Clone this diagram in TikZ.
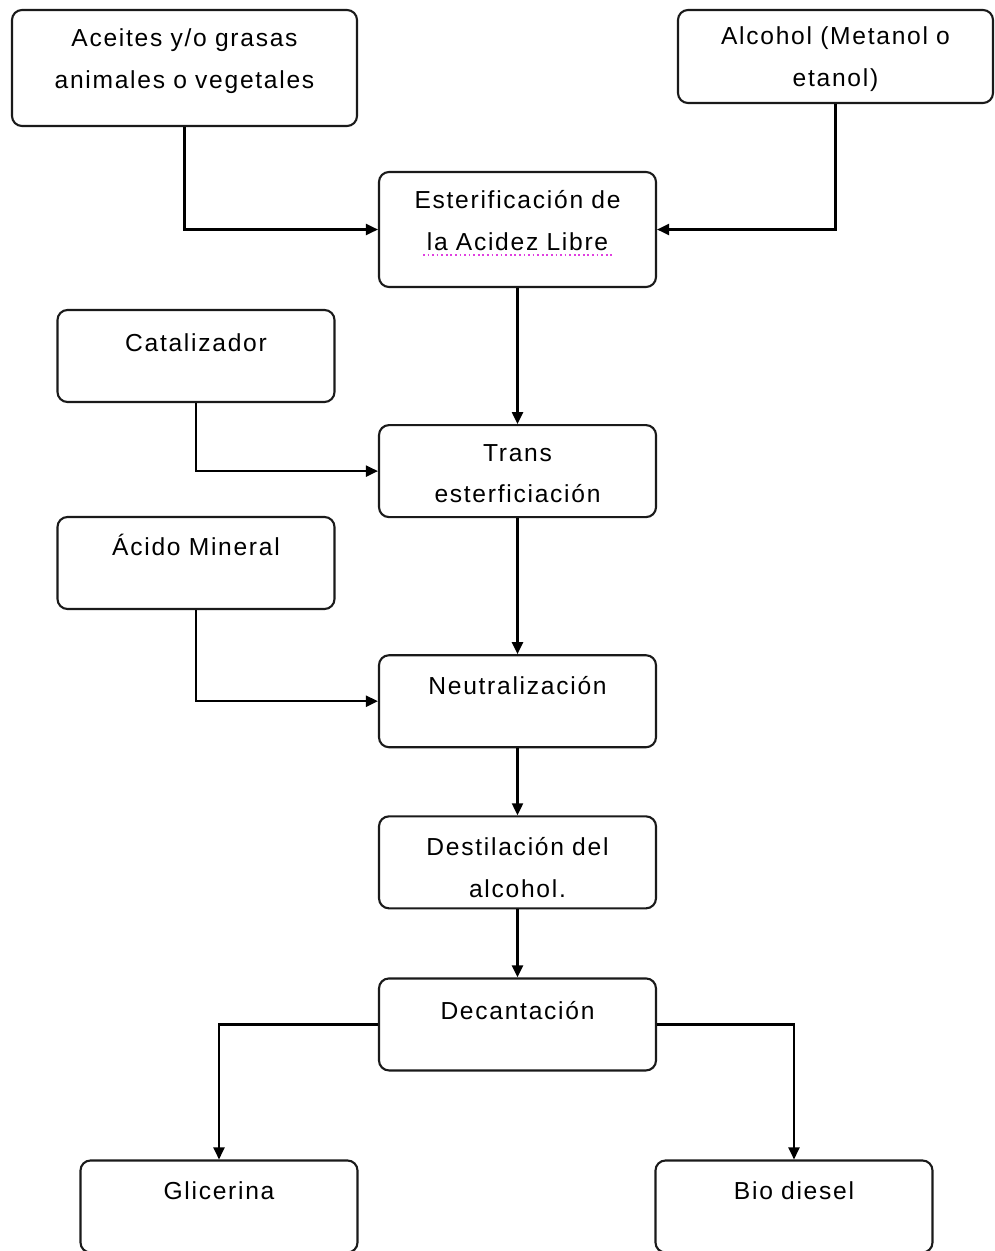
\documentclass[tikz,border=0pt]{standalone}
\usepackage{fontspec}
\setmainfont{Liberation Sans}[LetterSpace=7]
\usetikzlibrary{positioning,arrows.meta}
\definecolor{boxline}{HTML}{1A1A1A}
\definecolor{spellmark}{HTML}{E040E0}

\begin{document}
\begin{tikzpicture}[
  proc/.style={rounded corners=0.2cm,draw=boxline,line width=1.2pt,fill=white,minimum width=5.54cm,minimum height=1.84cm},
  txt/.style={anchor=base,text width=#1,align=center,inner sep=0pt,text=black,font=\fontsize{14}{23.8}\selectfont},
  txt/.default=5.2cm,
  arr/.style={-{Triangle[length=0.24cm,width=0.22cm]},line width=1.3pt,draw=black}
]
\useasboundingbox (0,0) rectangle (19.9,-25.02);
% inputs
\node[proc,minimum width=6.9cm,minimum height=2.32cm] (oil) at (3.69,-1.36) {};
\node[proc,minimum width=6.3cm,minimum height=1.86cm] (alc) at (16.71,-1.13) {};
\node[proc] (cat) at (3.92,-7.12) {};
\node[proc] (acid) at (3.92,-11.26) {};
% main column
\node[proc,minimum height=2.3cm] (ester) at (10.35,-4.59) {};
\node[proc,below=2.72cm of ester] (trans) {};
\node[proc,below=2.72cm of trans] (neutra) {};
\node[proc,below=1.34cm of neutra] (destil) {};
\node[proc,below=1.36cm of destil] (decant) {};
% products
\node[proc] (glic) at (4.38,-24.13) {};
\node[proc] (bio) at (15.88,-24.13) {};
% texts, set near the top of each box
\node[txt=6.5cm] (oil-t) at ([yshift=-0.76cm]oil.north) {Aceites y/o grasas\\animales o vegetales};
\node[txt=6cm] (alc-t) at ([yshift=-0.72cm]alc.north) {Alcohol (Metanol o\\etanol)};
\node[txt] (cat-t) at ([yshift=-0.86cm]cat.north) {Catalizador};
\node[txt] (acid-t) at ([yshift=-0.8cm]acid.north) {Ácido Mineral};
\node[txt] (ester-t) at ([yshift=-0.76cm]ester.north) {Esterificación de\\la Acidez Libre};
\node[txt] (trans-t) at ([yshift=-0.74cm]trans.north) {Trans\\esterficiación};
\node[txt] (neutra-t) at ([yshift=-0.8cm]neutra.north) {Neutralización};
\node[txt] (destil-t) at ([yshift=-0.8cm]destil.north) {Destilación del\\alcohol.};
\node[txt] (decant-t) at ([yshift=-0.84cm]decant.north) {Decantación};
\node[txt] (glic-t) at ([yshift=-0.8cm]glic.north) {Glicerina};
\node[txt] (bio-t) at ([yshift=-0.8cm]bio.north) {Bio diesel};
\draw[spellmark,line width=1pt,dash pattern=on 1pt off 1.6pt] ([xshift=-1.89cm,yshift=-0.92cm]ester-t.base) -- ++(3.78,0);
% flow
\draw[arr] (oil.south) |- (ester.west);
\draw[arr] (alc.south) |- (ester.east);
\draw[arr] (ester) -- (trans);
\draw[arr] (cat.south) |- (trans.west);
\draw[arr] (trans) -- (neutra);
\draw[arr] (acid.south) |- (neutra.west);
\draw[arr] (neutra) -- (destil);
\draw[arr] (destil) -- (decant);
\draw[arr] (decant.west) -| (glic.north);
\draw[arr] (decant.east) -| (bio.north);
\end{tikzpicture}
\end{document}
